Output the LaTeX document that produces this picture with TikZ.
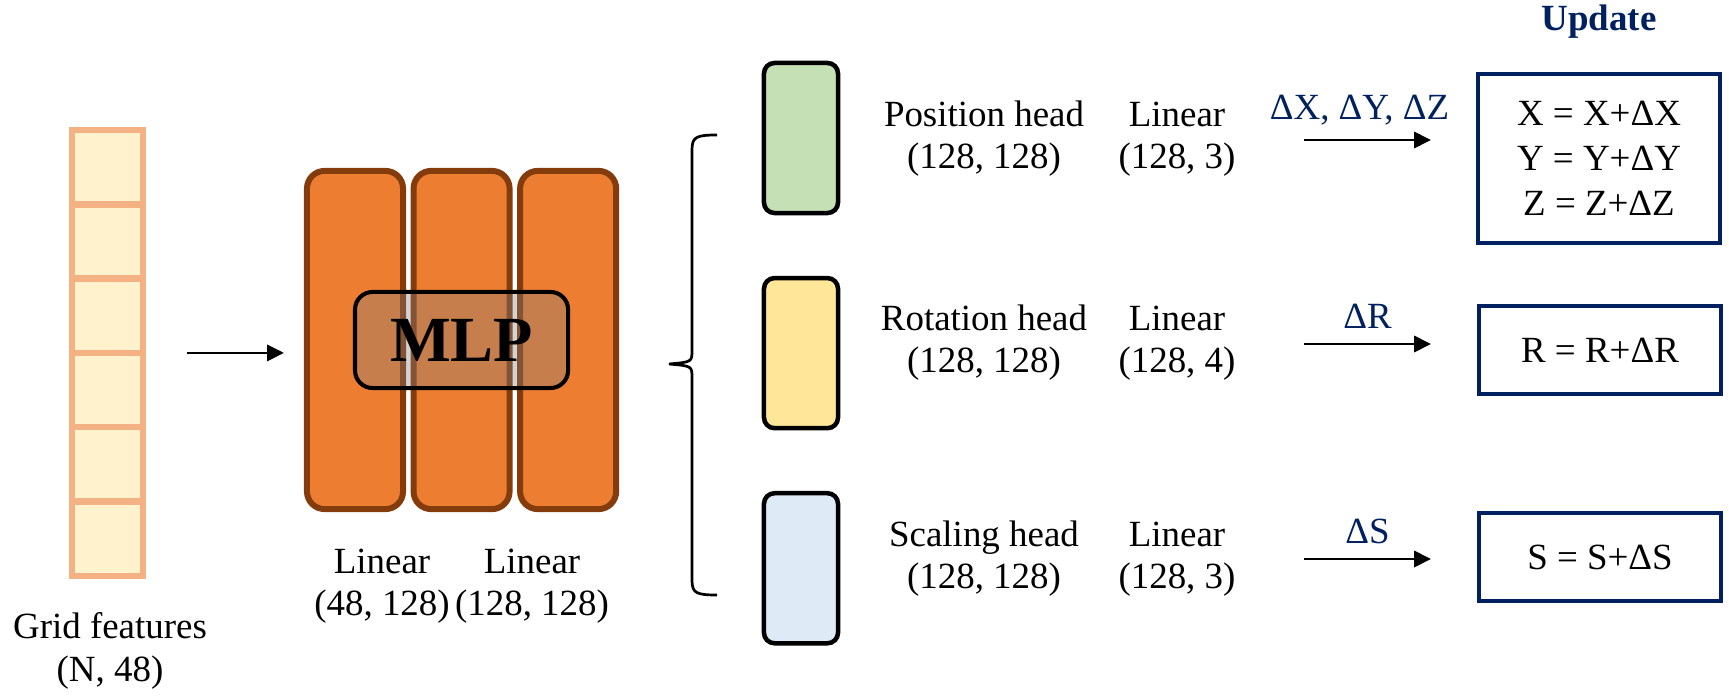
\documentclass[tikz,border=0pt]{standalone}
\usepackage{fontspec}
\setmainfont{Liberation Serif}
\usetikzlibrary{arrows.meta,positioning}
\definecolor{cellbdr}{RGB}{244,177,131}
\definecolor{cellfill}{RGB}{255,242,204}
\definecolor{mlpfill}{RGB}{237,125,49}
\definecolor{mlpbdr}{RGB}{132,60,12}
\definecolor{posclr}{RGB}{197,224,180}
\definecolor{rotclr}{RGB}{255,230,153}
\definecolor{sclclr}{RGB}{222,235,247}
\definecolor{navy}{RGB}{0,32,96}
\tikzset{
  txt/.style={font=\fontsize{10.5}{12}\selectfont,align=center,inner sep=0pt},
  cell/.style={rectangle,draw=cellbdr,fill=cellfill,line width=1.85pt,
    minimum width=0.71cm,minimum height=0.743cm,inner sep=0pt,outer sep=0pt},
  bar/.style={rectangle,rounded corners=5pt,draw=mlpbdr,fill=mlpfill,
    line width=1.7pt,minimum width=0.96cm,minimum height=3.38cm,outer sep=0pt},
  mlpbox/.style={rectangle,rounded corners=5pt,draw=black,line width=1.15pt,
    fill=black!50,fill opacity=0.35,text opacity=1,
    minimum width=2.13cm,minimum height=0.96cm,
    font=\fontsize{18.3}{20}\selectfont\bfseries},
  head/.style={rectangle,rounded corners=3pt,draw=black,line width=1.28pt,
    minimum width=0.74cm,minimum height=1.5cm,outer sep=0pt},
  updbox/.style={rectangle,draw=navy,line width=1.15pt,minimum width=2.42cm,
    font=\fontsize{10.5}{12.8}\selectfont,align=center},
  arr/.style={-{Triangle[length=4.8pt,width=4.6pt]},line width=0.8pt},
  dlbl/.style={txt,text=navy},
  brace/.style={line width=0.77pt},
}

\begin{document}
\begin{tikzpicture}[x=0.01cm,y=-0.01cm]
  \useasboundingbox (0,0) rectangle (1729,700);

  % input grid features
  \foreach \i in {1,...,6}
    \node[cell] (c\i) at (107.5,{130+74.3*(\i-0.5)}) {};
  \node[txt] (gridlbl) at (110,651) {Grid features\\(N, 48)};

  % shared MLP
  \node[bar] (bar1) at (355,340) {};
  \node[bar,right=0.105cm of bar1] (bar2) {};
  \node[bar,right=0.105cm of bar2] (bar3) {};
  \node[mlpbox] (mlp) at (bar2) {MLP};
  \node[txt] (lin1) at (382,586) {Linear\\(48, 128)};
  \node[txt] (lin2) at (532,586) {Linear\\(128, 128)};

  \draw[arr,shorten <=0.44cm,shorten >=0.23cm] (c3.south east) -- (c3.south east -| bar1.west);

  % brace over the three heads
  \draw[brace] (717,135) .. controls (696,135) and (692,137) .. (692,150)
    -- (692,350) .. controls (692,362) .. (669,364)
    .. controls (692,366) .. (692,378) -- (692,580)
    .. controls (692,593) and (696,595) .. (717,595);

  % heads
  \node[head,fill=posclr] (hpos) at (801,138) {};
  \node[head,fill=rotclr,below=0.65cm of hpos] (hrot) {};
  \node[head,fill=sclclr,below=0.65cm of hrot] (hscl) {};

  \node[txt] (lpos)  at (984,139)  {Position head\\(128, 128)};
  \node[txt] (lpos2) at (1177,139) {Linear\\(128, 3)};
  \node[txt] (lrot)  at (984,343)  {Rotation head\\(128, 128)};
  \node[txt] (lrot2) at (1177,343) {Linear\\(128, 4)};
  \node[txt] (lscl)  at (984,559)  {Scaling head\\(128, 128)};
  \node[txt] (lscl2) at (1177,559) {Linear\\(128, 3)};

  % update step
  \node[txt,text=navy,font=\fontsize{10.5}{12}\selectfont\bfseries] (upd) at (1599,22) {Update};
  \node[updbox,minimum height=1.69cm] (upos) at (1599,158.5) {X = X+ΔX\\Y = Y+ΔY\\Z = Z+ΔZ};
  \node[updbox,minimum height=0.87cm] (urot) at (1600,350) {R = R+ΔR};
  \node[updbox,minimum height=0.87cm] (uscl) at (1600,557) {S = S+ΔS};

  \coordinate (dpa) at (1304,140);
  \coordinate (dpb) at (1431,140);
  \coordinate (dra) at (1304,344);
  \coordinate (drb) at (1431,344);
  \coordinate (dsa) at (1304,559);
  \coordinate (dsb) at (1431,559);
  \draw[arr] (dpa) -- node[dlbl,above=0.13cm,xshift=-0.08cm] {ΔX, ΔY, ΔZ} (dpb);
  \draw[arr] (dra) -- node[dlbl,above=0.14cm] {ΔR} (drb);
  \draw[arr] (dsa) -- node[dlbl,above=0.14cm] {ΔS} (dsb);
\end{tikzpicture}
\end{document}
